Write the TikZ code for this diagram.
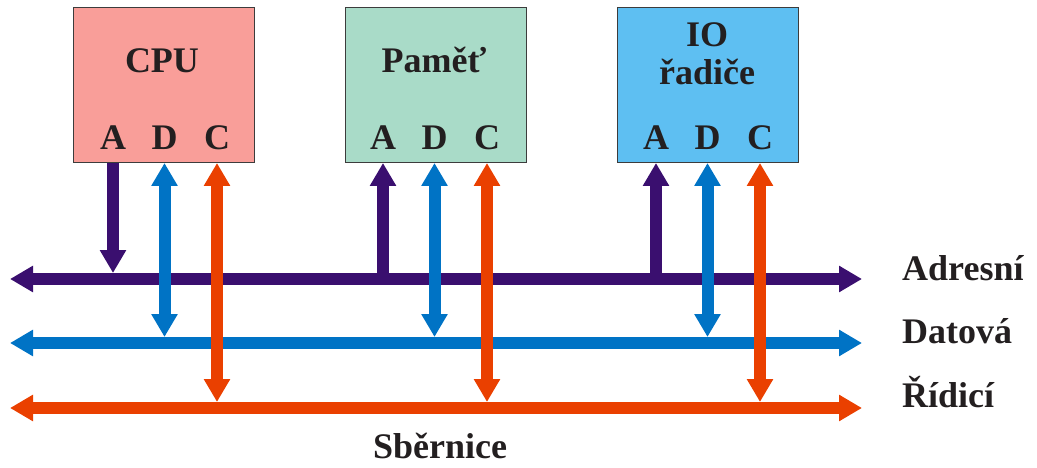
\documentclass[tikz,border=0pt]{standalone}
\usepackage{fontspec}
\setmainfont{Liberation Serif}
\usetikzlibrary{arrows.meta}
\definecolor{ink}{HTML}{231F20}
\definecolor{boxline}{HTML}{3C3C3C}
\definecolor{cpufill}{HTML}{F99E99}
\definecolor{memfill}{HTML}{A9DBC8}
\definecolor{iofill}{HTML}{5EBFF2}
\definecolor{adrcol}{HTML}{3A0F6F}
\definecolor{datcol}{HTML}{0073C5}
\definecolor{ctlcol}{HTML}{EA4000}
\tikzset{
  tip/.tip={Triangle[length=23pt,width=25pt]},
  unit/.style={draw=boxline, line width=1pt, minimum width=181pt, minimum height=155pt,
    anchor=north west, inner sep=0pt},
  txt/.style={font=\bfseries\fontsize{36}{38}\selectfont, text=ink, anchor=base, inner sep=0pt},
  oneway/.style={line width=12pt, -tip},
  twoway/.style={line width=12pt, tip-tip}
}

\begin{document}
\begin{tikzpicture}[x=1pt, y=-1pt]
            \useasboundingbox (0,0) rectangle (1037,468);
            % units
            \node [unit, fill=cpufill] (cpu) at (73,7) {};
            \node [unit, fill=memfill] (mem) at (345,7) {};
            \node [unit, fill=iofill] (io) at (617,7) {};
            \node [txt] (cpuname) at (162,73) {CPU};
            \node [txt] (memname) at (434,73) {Paměť};
            \node [txt] (ioname) at (707,47) {IO};
            \node [txt] (ioname2) at (707,85) {řadiče};
            \foreach \Unit/\X in {cpu/113, mem/383, io/656}{
                \node [txt] (\Unit A) at (\X,150) {A};
                \node [txt] (\Unit D) at (\X+51.5,150) {D};
                \node [txt] (\Unit C) at (\X+104,150) {C};
            }
            % buses
            \coordinate (adrL) at (10,279);
            \coordinate (adrR) at (862,279);
            \coordinate (datL) at (10,343);
            \coordinate (datR) at (862,343);
            \coordinate (ctlL) at (10,408);
            \coordinate (ctlR) at (862,408);
            \draw [twoway, adrcol] (adrL) -- (adrR);
            \draw [twoway, datcol] (datL) -- (datR);
            \draw [twoway, ctlcol] (ctlL) -- (ctlR);
            \node [txt, anchor=base west] (adrname) at (902,280) {Adresní};
            \node [txt, anchor=base west] (datname) at (902,343) {Datová};
            \node [txt, anchor=base west] (ctlname) at (902,407) {Řídicí};
            \node [txt] (busname) at (440,458) {Sběrnice};
            % connections
            \draw [oneway, adrcol, shorten >=6pt] (cpu.south -| cpuA) -- (cpuA |- adrL);
            \draw [oneway, adrcol] (memA |- adrL) -- (mem.south -| memA);
            \draw [oneway, adrcol] (ioA |- adrL) -- (io.south -| ioA);
            \foreach \Unit in {cpu, mem, io}{
                \draw [twoway, datcol, shorten >=6pt] (\Unit.south -| \Unit D) -- (\Unit D |- datL);
                \draw [twoway, ctlcol, shorten >=6pt] (\Unit.south -| \Unit C) -- (\Unit C |- ctlL);
            }
        \end{tikzpicture}
\end{document}
